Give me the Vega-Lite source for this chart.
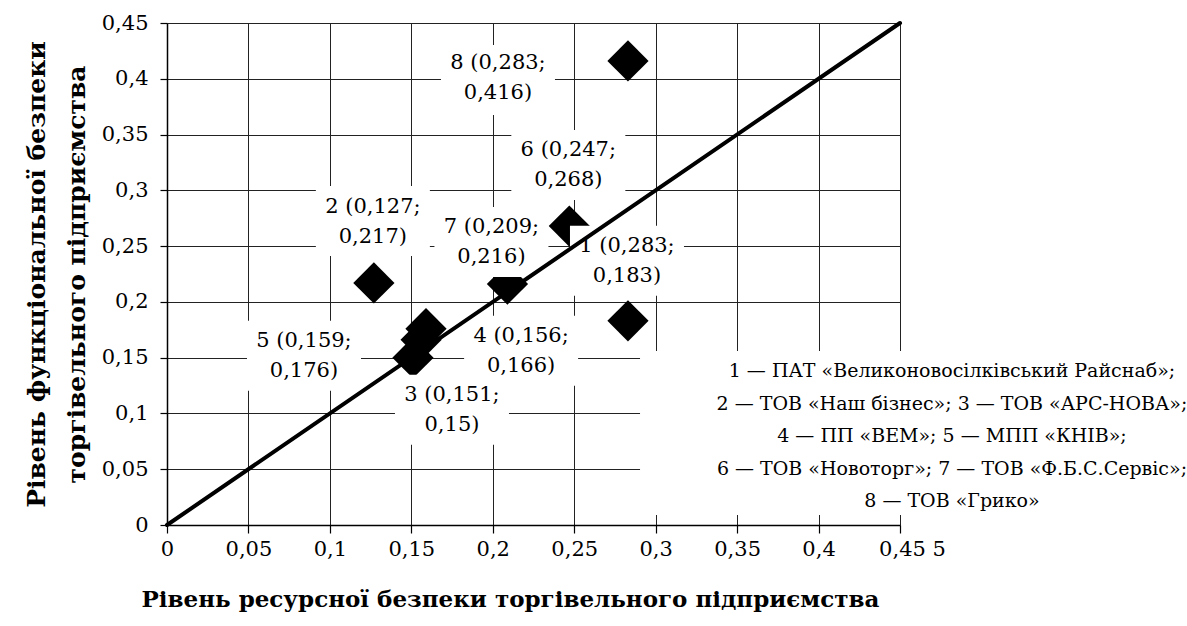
{
  "$schema": "https://vega.github.io/schema/vega-lite/v6.json",
  "width": 733,
  "height": 502,
  "autosize": {"type": "none"},
  "padding": {"left": 167, "top": 23, "right": 287, "bottom": 101},
  "background": "white",
  "config": {"view": {"stroke": null}, "font": "DejaVu Serif"},
  "data": {
    "values": [
      {"id": 1, "x": 0.283, "y": 0.183},
      {"id": 2, "x": 0.127, "y": 0.217},
      {"id": 3, "x": 0.151, "y": 0.15},
      {"id": 4, "x": 0.156, "y": 0.166},
      {"id": 5, "x": 0.159, "y": 0.176},
      {"id": 6, "x": 0.247, "y": 0.268},
      {"id": 7, "x": 0.209, "y": 0.216},
      {"id": 8, "x": 0.283, "y": 0.416}
    ]
  },
  "transform": [
    {"calculate": "datum.id + ' (' + replace(format(datum.x, '.3~f'), '.', ',') + ';\\n' + replace(format(datum.y, '.3~f'), '.', ',') + ')'", "as": "lab"}
  ],
  "layer": [
    {
      "mark": {"type": "point", "shape": "diamond", "filled": true, "color": "black", "opacity": 1, "size": 1700},
      "encoding": {
        "x": {
          "field": "x", "type": "quantitative",
          "scale": {"domain": [0, 0.45], "nice": false, "zero": true},
          "axis": {
            "title": "Рівень ресурсної  безпеки торгівельного підприємства",
            "values": [0, 0.05, 0.1, 0.15, 0.2, 0.25, 0.3, 0.35, 0.4, 0.45],
            "labelExpr": "datum.value > 0.449 ? '0,45 5' : replace(format(datum.value, '~g'), '.', ',')",
            "grid": true, "gridColor": "#222222", "gridWidth": 1,
            "domainColor": "black", "domainWidth": 1.5,
            "tickColor": "black", "tickSize": 8, "tickWidth": 1.2,
            "labelFont": "DejaVu Serif", "labelFontSize": 21, "labelColor": "black",
            "labelPadding": 5, "labelFlush": false, "labelOverlap": false,
            "labelOffset": {"condition": {"test": "datum.value > 0.449", "value": 12}, "value": 0},
            "titleFont": "DejaVu Serif", "titleFontSize": 23, "titleFontWeight": "bold", "titleColor": "black",
            "titlePadding": 29, "titleX": 343
          }
        },
        "y": {
          "field": "y", "type": "quantitative",
          "scale": {"domain": [0, 0.45], "nice": false, "zero": true},
          "axis": {
            "title": ["Рівень функціональної  безпеки", "торгівельного підприємства"],
            "values": [0, 0.05, 0.1, 0.15, 0.2, 0.25, 0.3, 0.35, 0.4, 0.45],
            "labelExpr": "replace(format(datum.value, '~g'), '.', ',')",
            "grid": true, "gridColor": "#222222", "gridWidth": 1,
            "domainColor": "black", "domainWidth": 1.5,
            "tickColor": "black", "tickSize": 7, "tickWidth": 1.2,
            "labelFont": "DejaVu Serif", "labelFontSize": 21, "labelColor": "black",
            "labelPadding": 12, "labelFlush": false, "labelOverlap": false,
            "titleFont": "DejaVu Serif", "titleFontSize": 25, "titleFontWeight": "bold", "titleColor": "black",
            "titlePadding": 12, "titleLineHeight": 40
          }
        }
      }
    },
    {"transform": [{"filter": "datum.id == 1"}], "layer": [
      {"mark": {"type": "point", "shape": "M-1,-0.614L1,-0.614L1,0.614L-1,0.614Z", "filled": true, "color": "white", "opacity": 1, "size": 12996, "xOffset": -1, "yOffset": -60}, "encoding": {"x": {"field": "x", "type": "quantitative"}, "y": {"field": "y", "type": "quantitative"}}},
      {"mark": {"type": "text", "font": "DejaVu Serif", "fontSize": 21, "lineHeight": 30, "lineBreak": "\n", "align": "center", "baseline": "middle", "color": "black", "xOffset": -1, "yOffset": -75}, "encoding": {"x": {"field": "x", "type": "quantitative"}, "y": {"field": "y", "type": "quantitative"}, "text": {"field": "lab"}}}
    ]},
    {"transform": [{"filter": "datum.id == 2"}], "layer": [
      {"mark": {"type": "point", "shape": "M-1,-0.614L1,-0.614L1,0.614L-1,0.614Z", "filled": true, "color": "white", "opacity": 1, "size": 12996, "xOffset": -1, "yOffset": -62}, "encoding": {"x": {"field": "x", "type": "quantitative"}, "y": {"field": "y", "type": "quantitative"}}},
      {"mark": {"type": "text", "font": "DejaVu Serif", "fontSize": 21, "lineHeight": 30, "lineBreak": "\n", "align": "center", "baseline": "middle", "color": "black", "xOffset": -1, "yOffset": -76}, "encoding": {"x": {"field": "x", "type": "quantitative"}, "y": {"field": "y", "type": "quantitative"}, "text": {"field": "lab"}}}
    ]},
    {"transform": [{"filter": "datum.id == 3"}], "layer": [
      {"mark": {"type": "point", "shape": "M-1,-0.614L1,-0.614L1,0.614L-1,0.614Z", "filled": true, "color": "white", "opacity": 1, "size": 12996, "xOffset": 39, "yOffset": 52}, "encoding": {"x": {"field": "x", "type": "quantitative"}, "y": {"field": "y", "type": "quantitative"}}},
      {"mark": {"type": "text", "font": "DejaVu Serif", "fontSize": 21, "lineHeight": 30, "lineBreak": "\n", "align": "center", "baseline": "middle", "color": "black", "xOffset": 39, "yOffset": 37}, "encoding": {"x": {"field": "x", "type": "quantitative"}, "y": {"field": "y", "type": "quantitative"}, "text": {"field": "lab"}}}
    ]},
    {"transform": [{"filter": "datum.id == 4"}], "layer": [
      {"mark": {"type": "point", "shape": "M-1,-0.614L1,-0.614L1,0.614L-1,0.614Z", "filled": true, "color": "white", "opacity": 1, "size": 12996, "xOffset": 100, "yOffset": 11}, "encoding": {"x": {"field": "x", "type": "quantitative"}, "y": {"field": "y", "type": "quantitative"}}},
      {"mark": {"type": "text", "font": "DejaVu Serif", "fontSize": 21, "lineHeight": 30, "lineBreak": "\n", "align": "center", "baseline": "middle", "color": "black", "xOffset": 100, "yOffset": -4}, "encoding": {"x": {"field": "x", "type": "quantitative"}, "y": {"field": "y", "type": "quantitative"}, "text": {"field": "lab"}}}
    ]},
    {"transform": [{"filter": "datum.id == 5"}], "layer": [
      {"mark": {"type": "point", "shape": "M-1,-0.614L1,-0.614L1,0.614L-1,0.614Z", "filled": true, "color": "white", "opacity": 1, "size": 12996, "xOffset": -122, "yOffset": 27}, "encoding": {"x": {"field": "x", "type": "quantitative"}, "y": {"field": "y", "type": "quantitative"}}},
      {"mark": {"type": "text", "font": "DejaVu Serif", "fontSize": 21, "lineHeight": 30, "lineBreak": "\n", "align": "center", "baseline": "middle", "color": "black", "xOffset": -122, "yOffset": 12}, "encoding": {"x": {"field": "x", "type": "quantitative"}, "y": {"field": "y", "type": "quantitative"}, "text": {"field": "lab"}}}
    ]},
    {"transform": [{"filter": "datum.id == 6"}], "layer": [
      {"mark": {"type": "point", "shape": "M-1,-0.614L1,-0.614L1,0.614L-1,0.614Z", "filled": true, "color": "white", "opacity": 1, "size": 12996, "xOffset": -1, "yOffset": -61}, "encoding": {"x": {"field": "x", "type": "quantitative"}, "y": {"field": "y", "type": "quantitative"}}},
      {"mark": {"type": "text", "font": "DejaVu Serif", "fontSize": 21, "lineHeight": 30, "lineBreak": "\n", "align": "center", "baseline": "middle", "color": "black", "xOffset": -1, "yOffset": -76}, "encoding": {"x": {"field": "x", "type": "quantitative"}, "y": {"field": "y", "type": "quantitative"}, "text": {"field": "lab"}}}
    ]},
    {"transform": [{"filter": "datum.id == 7"}], "layer": [
      {"mark": {"type": "point", "shape": "M-1,-0.614L1,-0.614L1,0.614L-1,0.614Z", "filled": true, "color": "white", "opacity": 1, "size": 12996, "xOffset": -16, "yOffset": -42}, "encoding": {"x": {"field": "x", "type": "quantitative"}, "y": {"field": "y", "type": "quantitative"}}},
      {"mark": {"type": "text", "font": "DejaVu Serif", "fontSize": 21, "lineHeight": 30, "lineBreak": "\n", "align": "center", "baseline": "middle", "color": "black", "xOffset": -16, "yOffset": -57}, "encoding": {"x": {"field": "x", "type": "quantitative"}, "y": {"field": "y", "type": "quantitative"}, "text": {"field": "lab"}}}
    ]},
    {"transform": [{"filter": "datum.id == 8"}], "layer": [
      {"mark": {"type": "point", "shape": "M-1,-0.614L1,-0.614L1,0.614L-1,0.614Z", "filled": true, "color": "white", "opacity": 1, "size": 12996, "xOffset": -130, "yOffset": 19}, "encoding": {"x": {"field": "x", "type": "quantitative"}, "y": {"field": "y", "type": "quantitative"}}},
      {"mark": {"type": "text", "font": "DejaVu Serif", "fontSize": 21, "lineHeight": 30, "lineBreak": "\n", "align": "center", "baseline": "middle", "color": "black", "xOffset": -130, "yOffset": 2}, "encoding": {"x": {"field": "x", "type": "quantitative"}, "y": {"field": "y", "type": "quantitative"}, "text": {"field": "lab"}}}
    ]},
    {
      "data": {"values": [{"x": 0, "y": 0}, {"x": 0.45, "y": 0.45}]},
      "mark": {"type": "line", "color": "black", "strokeWidth": 4, "strokeCap": "round"},
      "encoding": {"x": {"field": "x", "type": "quantitative"}, "y": {"field": "y", "type": "quantitative"}}
    },
    {
      "data": {"values": [{"note": "legend box"}]},
      "mark": {"type": "rect", "color": "white", "opacity": 1},
      "encoding": {
        "x": {"datum": 0.2904, "type": "quantitative"},
        "x2": {"datum": 0.6262},
        "y": {"datum": 0.1560, "type": "quantitative"},
        "y2": {"datum": 0.0090}
      }
    },
    {
      "data": {"values": [{"note": "legend"}]},
      "mark": {
        "type": "text", "font": "DejaVu Serif", "fontSize": 19, "lineHeight": 32.5, "align": "center", "baseline": "middle", "color": "black",
        "text": [
          "1 — ПАТ «Великоновосілківський Райснаб»;",
          "2 — ТОВ «Наш бізнес»; 3 — ТОВ «АРС-НОВА»;",
          "4 —  ПП «ВЕМ»; 5 — МПП «КНІВ»;",
          "6 — ТОВ «Новоторг»; 7 — ТОВ «Ф.Б.С.Сервіс»;",
          "8 — ТОВ «Грико»"
        ]
      },
      "encoding": {"x": {"datum": 0.4819, "type": "quantitative"}, "y": {"datum": 0.138, "type": "quantitative"}}
    }
  ]
}
